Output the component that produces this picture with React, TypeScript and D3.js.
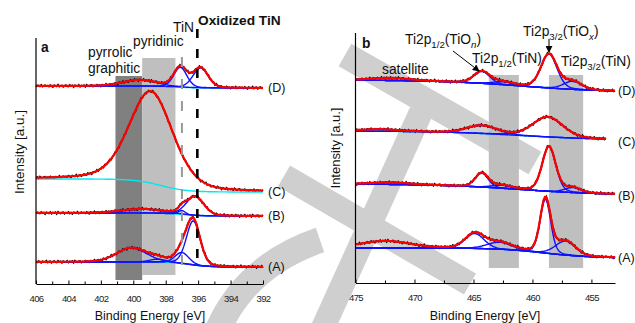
import React, { useRef, useEffect } from 'react';
import * as d3 from 'd3';

// panel a : N1s
const ticksA = [406, 404, 402, 400, 398, 396, 394, 392];
const minorA = [405, 403, 401, 399, 397, 395, 393];
// panel b : Ti2p
const ticksB = [475, 470, 465, 460, 455];
const minorB = [472.5, 467.5, 462.5, 457.5];

const labels = ['(A)', '(B)', '(C)', '(D)'];

// background: [level left, level right, step centre eV, step width eV]
// peaks: [centre eV, height, fwhm eV, lorentz part]
const aA_bg = [22, 17, 396.5, 0.6];
const aA_peaks = [[400.1, 14, 2.2], [398.5, 3, 1.2], [397.0, 11, 1.0], [396.3, 44, 1.0]];
const aB_bg = [71, 68, 397, 0.6];
const aB_peaks = [[399.5, 4, 3], [397.0, 4, 0.5], [396.2, 19, 1.3]];
const aC_bg = [105, 92, 398.3, 0.8];
const aC_peaks = [[398.9, 92, 3.2, 0.3]];
const aD_bg = [198, 196, 397.5, 0.7];
const aD_peaks = [[399.6, 6, 2.5], [397.1, 20, 0.95], [395.85, 20, 1.1]];

const bA_bg = [35, 25, 459, 2];
const bA_peaks = [[472.5, 7, 5], [464.9, 15, 1.9], [462.8, 7, 2.5], [458.9, 54, 1.05], [457.2, 14, 2.0]];
const bB_bg = [99, 88, 461, 3.5];
const bB_peaks = [[472.1, 2, 4], [464.3, 14, 1.3], [462.6, 3, 2], [458.6, 45, 1.35], [456.6, 5, 1.6]];
const bC_bg = [152, 143, 461, 3.5];
const bC_peaks = [[473, 2, 4], [464.3, 8, 3], [458.7, 20, 3]];
const bD_bg = [203, 191, 461, 3.5];
const bD_peaks = [[472.1, 2.5, 4], [464.3, 12, 1.6], [462.5, 3, 2], [458.6, 34, 1.6], [456.6, 8, 1.8]];

const aRanges = [[406, 392], [406, 392], [406, 392], [406, 392]];
const bRanges = [[475, 453], [475, 453], [475, 453.7], [475, 453]];

// shaded regions [from eV, to eV, bottom, top]
const aBands = [[401.1, 399.45, 4, 208], [399.45, 397.4, 9, 226]];
const bBands = [[463.7, 461.15, 15, 208], [458.6, 455.7, 15, 208]];

// scan noise (read roughly off the black data)
const noise = [0.4, -0.8, 1.1, -0.3, -1.4, 0.9, 0.2, -0.6, 1.5, -1.0, 0.3, 0.7, -1.2, 0.1, 1.0, -0.5, -0.9, 1.3, -0.2, 0.6,
  -1.5, 0.8, 0.0, -0.7, 1.2, -1.1, 0.5, -0.4, 0.9, -1.3, 1.4, -0.1, -0.8, 0.6, 1.0, -1.2, 0.2, -0.5, 1.1, -0.9,
  0.3, -1.4, 0.7, 0.4, -0.6, 1.3, -1.0, 0.1, 0.8, -0.3];

const FONT = '"Liberation Sans", Arial, sans-serif';

function peak(e, p) {
  const eta = p[3] === undefined ? 0.2 : p[3];
  const dx = (e - p[0]) / p[2];
  const g = Math.exp(-4 * Math.LN2 * dx * dx);
  const l = 1 / (1 + 4 * dx * dx);
  return p[1] * ((1 - eta) * g + eta * l);
}

function bgAt(e, bg) {
  return bg[1] + (bg[0] - bg[1]) / (1 + Math.exp(-(e - bg[2]) / bg[3]));
}

function drawPanel(svg, opt) {
  const { x, y, spectra, ranges, step, noiseSeed, skipComps } = opt;
  const line = d3.line().x(d => x(d[0])).y(d => y(d[1]));

  spectra.forEach((s, k) => {
    const [bg, peaks] = s;
    const r = ranges[k];
    const es = d3.range(r[0], r[1] - 1e-6, -step);
    const g = svg.append('g');

    const fit = es.map(e => [e, bgAt(e, bg) + d3.sum(peaks, p => peak(e, p))]);
    const raw = fit.map((d, i) => [d[0], d[1] + noise[(i + noiseSeed[k]) % noise.length] * 0.8]);

    g.append('path').attr('d', line(raw)).attr('fill', 'none')
      .attr('stroke', '#000').attr('stroke-width', 1.6);

    g.append('path').attr('d', line(es.map(e => [e, bgAt(e, bg)]))).attr('fill', 'none')
      .attr('stroke', '#00e8f0').attr('stroke-width', 1.4);

    if (!skipComps[k]) {
      peaks.forEach(p => {
        g.append('path').attr('d', line(es.map(e => [e, bgAt(e, bg) + peak(e, p)]))).attr('fill', 'none')
          .attr('stroke', '#1010ff').attr('stroke-width', 1.4);
      });
    }

    g.append('path').attr('d', line(fit)).attr('fill', 'none')
      .attr('stroke', '#ff0000').attr('stroke-width', 2.2);
  });
}

function drawAxes(svg, x, y, major, minor, x0, yTop, yBottom) {
  const ax = svg.append('g').attr('transform', `translate(0,${yBottom})`)
    .call(d3.axisBottom(x).tickValues(major).tickSize(-3.5).tickSizeOuter(0).tickPadding(11));
  ax.select('.domain').attr('stroke', '#000').attr('stroke-width', 1.2);
  ax.selectAll('text').attr('font-size', 9.5).attr('font-family', FONT).attr('fill', '#222')
    .attr('letter-spacing', -0.6);
  const mx = svg.append('g').attr('transform', `translate(0,${yBottom})`)
    .call(d3.axisBottom(x).tickValues(minor).tickSize(-2.5).tickSizeOuter(0).tickFormat(() => ''));
  mx.select('.domain').remove();

  svg.append('line').attr('x1', x0).attr('x2', x0).attr('y1', yTop).attr('y2', yBottom)
    .attr('stroke', '#000').attr('stroke-width', 1.2);
}

function txt(svg, x, y, parts, size = 13.8, weight = 'normal') {
  const t = svg.append('text').attr('x', x).attr('y', y).attr('font-family', FONT)
    .attr('font-size', size).attr('font-weight', weight).attr('fill', '#111');
  let shift = 0;
  parts.forEach(p => {
    const [s, kind] = typeof p === 'string' ? [p, ''] : p;
    const ts = t.append('tspan').text(s);
    if (kind === 'sub' || kind === 'subi') {
      ts.attr('font-size', size * 0.7).attr('dy', 3.5 - shift);
      shift = 3.5;
      if (kind === 'subi') ts.attr('font-style', 'italic');
    } else {
      ts.attr('dy', -shift);
      shift = 0;
    }
  });
  return t;
}

function App() {
  const svgRef = useRef(null);

  useEffect(() => {
    const svg = d3.select(svgRef.current);
    svg.selectAll('*').remove();

    svg.append('defs').append('marker').attr('id', 'arr')
      .attr('viewBox', '0 0 8 8').attr('refX', 7).attr('refY', 4)
      .attr('markerWidth', 7).attr('markerHeight', 7).attr('markerUnits', 'userSpaceOnUse')
      .attr('orient', 'auto')
      .append('path').attr('d', 'M0,0 L8,4 L0,8 z').attr('fill', '#000');

    // watermark behind the figure
    const wm = svg.append('g').attr('fill', 'none').attr('stroke', '#cfcfcf');
    wm.append('line').attr('x1', 345).attr('y1', 55).attr('x2', 535).attr('y2', 163).attr('stroke-width', 26);
    wm.append('line').attr('x1', 284).attr('y1', 176).attr('x2', 470).attr('y2', 284).attr('stroke-width', 24);
    wm.append('line').attr('x1', 421).attr('y1', 112).attr('x2', 322).attr('y2', 330).attr('stroke-width', 24);
    wm.append('path').attr('d', 'M212 345 Q238 268 320 240').attr('stroke-width', 26);

    // ---------- panel a ----------
    const xA = d3.scaleLinear().domain([406, 392]).range([36, 263]);
    const yA = d3.scaleLinear().domain([0, 246]).range([284, 38]);

    const bandColA = ['#808080', '#bfbfbf'];
    aBands.forEach((b, i) => {
      svg.append('rect').attr('x', xA(b[0])).attr('width', xA(b[1]) - xA(b[0]))
        .attr('y', yA(b[3])).attr('height', yA(b[2]) - yA(b[3])).attr('fill', bandColA[i]);
    });

    drawPanel(svg, {
      x: xA, y: yA,
      spectra: [[aA_bg, aA_peaks], [aB_bg, aB_peaks], [aC_bg, aC_peaks], [aD_bg, aD_peaks]],
      ranges: aRanges, step: 0.08, noiseSeed: [0, 13, 27, 41], skipComps: [false, false, true, false],
    });

    // TiN and oxidized TiN markers
    svg.append('line').attr('x1', xA(397.0)).attr('x2', xA(397.0)).attr('y1', yA(227)).attr('y2', yA(11))
      .attr('stroke', '#999').attr('stroke-width', 2).attr('stroke-dasharray', '10,12');
    svg.append('line').attr('x1', xA(396.05)).attr('x2', xA(396.05)).attr('y1', yA(255)).attr('y2', yA(20))
      .attr('stroke', '#000').attr('stroke-width', 2.6).attr('stroke-dasharray', '9,11');

    drawAxes(svg, xA, yA, ticksA, minorA, 36, 38, 284);

    const aSpec = [aA_bg, aB_bg, aC_bg, aD_bg];
    aSpec.forEach((bg, k) => {
      const e = aRanges[k][1];
      svg.append('text').attr('x', xA(e) + 5).attr('y', yA(bgAt(e, bg))).attr('dy', '0.35em')
        .attr('font-family', FONT).attr('font-size', 12.5).attr('fill', '#111').text(labels[k]);
    });

    txt(svg, 41, 52, ['a'], 13.8, 'bold');
    txt(svg, 198, 25, ['Oxidized TiN'], 13.7, 'bold');
    txt(svg, 173, 32, ['TiN']);
    txt(svg, 133, 46, ['pyridinic']);
    txt(svg, 88, 57, ['pyrrolic']);
    txt(svg, 88, 73, ['graphitic']);

    svg.append('text').attr('x', 150).attr('y', 320).attr('text-anchor', 'middle')
      .attr('font-family', FONT).attr('font-size', 12.5).attr('fill', '#111').text('Binding Energy [eV]');
    svg.append('text').attr('transform', 'translate(24,152) rotate(-90)').attr('text-anchor', 'middle')
      .attr('font-family', FONT).attr('font-size', 13.5).attr('fill', '#111').text('Intensity [a.u.]');

    // ---------- panel b ----------
    const xB = d3.scaleLinear().domain([475, 453]).range([355.5, 615]);
    const yB = d3.scaleLinear().domain([0, 250]).range([283, 33]);

    bBands.forEach(b => {
      svg.append('rect').attr('x', xB(b[0])).attr('width', xB(b[1]) - xB(b[0]))
        .attr('y', yB(b[3])).attr('height', yB(b[2]) - yB(b[3])).attr('fill', '#bfbfbf');
    });

    drawPanel(svg, {
      x: xB, y: yB,
      spectra: [[bA_bg, bA_peaks], [bB_bg, bB_peaks], [bC_bg, bC_peaks], [bD_bg, bD_peaks]],
      ranges: bRanges, step: 0.11, noiseSeed: [5, 19, 33, 47], skipComps: [false, false, false, false],
    });

    drawAxes(svg, xB, yB, ticksB, minorB, 355.5, 33, 283);

    const bSpec = [bA_bg, bB_bg, bC_bg, bD_bg];
    const bLabelShift = [0, 2, 3, 0];
    bSpec.forEach((bg, k) => {
      svg.append('text').attr('x', 618).attr('y', yB(bgAt(bRanges[k][1], bg)) + bLabelShift[k]).attr('dy', '0.35em')
        .attr('font-family', FONT).attr('font-size', 12.5).attr('fill', '#111').text(labels[k]);
    });

    txt(svg, 362, 48, ['b'], 13.8, 'bold');
    txt(svg, 382, 74, ['satellite']);
    txt(svg, 405, 44, ['Ti2p', ['1/2', 'sub'], '(TiO', ['n', 'subi'], ')']);
    txt(svg, 472, 63, ['Ti2p', ['1/2', 'sub'], '(TiN)']);
    txt(svg, 523, 36, ['Ti2p', ['3/2', 'sub'], '(TiO', ['x', 'subi'], ')']);
    txt(svg, 561, 66, ['Ti2p', ['3/2', 'sub'], '(TiN)']);

    svg.append('line').attr('x1', 453).attr('y1', 51).attr('x2', 479).attr('y2', 71)
      .attr('stroke', '#000').attr('stroke-width', 1).attr('marker-end', 'url(#arr)');
    svg.append('line').attr('x1', 549).attr('y1', 39).attr('x2', 549).attr('y2', 52)
      .attr('stroke', '#000').attr('stroke-width', 1).attr('marker-end', 'url(#arr)');

    svg.append('text').attr('x', 485).attr('y', 320).attr('text-anchor', 'middle')
      .attr('font-family', FONT).attr('font-size', 12.5).attr('fill', '#111').text('Binding Energy [eV]');
    svg.append('text').attr('transform', 'translate(340,148) rotate(-90)').attr('text-anchor', 'middle')
      .attr('font-family', FONT).attr('font-size', 13).attr('fill', '#111').text('Intensity [a.u.]');
  }, []);

  return (
    <svg ref={svgRef} width={635} height={323}
      style={{ position: 'absolute', left: 0, top: 0, background: '#fff', display: 'block' }} />
  );
}

export default App;
